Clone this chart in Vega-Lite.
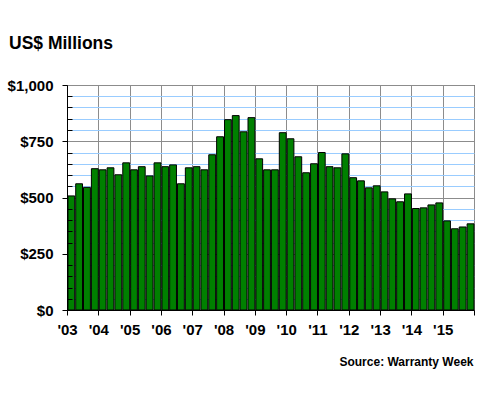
{
  "$schema": "https://vega.github.io/schema/vega-lite/v6.json",
  "autosize": "none",
  "width": 407,
  "height": 225,
  "padding": {"left": 67, "top": 85, "right": 6, "bottom": 90},
  "background": "white",
  "config": {
    "view": {"stroke": "black", "strokeWidth": 1},
    "axis": {"labelFont": "Liberation Sans", "labelFontWeight": "bold", "labelFontSize": 15, "labelColor": "black", "domainColor": "black", "tickColor": "black"}
  },
  "title": {"text": "US$ Millions", "anchor": "start", "frame": "group", "dx": -58, "offset": 12, "baseline": "alphabetic", "font": "Liberation Sans", "fontWeight": "bold", "fontSize": 17.5, "color": "black"},
  "data": {"values": [
    {"quarter": "2003-01-01", "value": 507}, {"quarter": "2003-04-01", "value": 561}, {"quarter": "2003-07-01", "value": 545}, {"quarter": "2003-10-01", "value": 628},
    {"quarter": "2004-01-01", "value": 623}, {"quarter": "2004-04-01", "value": 632}, {"quarter": "2004-07-01", "value": 601}, {"quarter": "2004-10-01", "value": 654},
    {"quarter": "2005-01-01", "value": 623}, {"quarter": "2005-04-01", "value": 637}, {"quarter": "2005-07-01", "value": 596}, {"quarter": "2005-10-01", "value": 654},
    {"quarter": "2006-01-01", "value": 637}, {"quarter": "2006-04-01", "value": 645}, {"quarter": "2006-07-01", "value": 561}, {"quarter": "2006-10-01", "value": 632},
    {"quarter": "2007-01-01", "value": 637}, {"quarter": "2007-04-01", "value": 623}, {"quarter": "2007-07-01", "value": 690}, {"quarter": "2007-10-01", "value": 770},
    {"quarter": "2008-01-01", "value": 846}, {"quarter": "2008-04-01", "value": 864}, {"quarter": "2008-07-01", "value": 792}, {"quarter": "2008-10-01", "value": 855},
    {"quarter": "2009-01-01", "value": 672}, {"quarter": "2009-04-01", "value": 623}, {"quarter": "2009-07-01", "value": 623}, {"quarter": "2009-10-01", "value": 788},
    {"quarter": "2010-01-01", "value": 761}, {"quarter": "2010-04-01", "value": 681}, {"quarter": "2010-07-01", "value": 610}, {"quarter": "2010-10-01", "value": 650},
    {"quarter": "2011-01-01", "value": 700}, {"quarter": "2011-04-01", "value": 637}, {"quarter": "2011-07-01", "value": 632}, {"quarter": "2011-10-01", "value": 694},
    {"quarter": "2012-01-01", "value": 588}, {"quarter": "2012-04-01", "value": 574}, {"quarter": "2012-07-01", "value": 543}, {"quarter": "2012-10-01", "value": 552},
    {"quarter": "2013-01-01", "value": 525}, {"quarter": "2013-04-01", "value": 494}, {"quarter": "2013-07-01", "value": 481}, {"quarter": "2013-10-01", "value": 516},
    {"quarter": "2014-01-01", "value": 451}, {"quarter": "2014-04-01", "value": 454}, {"quarter": "2014-07-01", "value": 467}, {"quarter": "2014-10-01", "value": 476},
    {"quarter": "2015-01-01", "value": 396}, {"quarter": "2015-04-01", "value": 361}, {"quarter": "2015-07-01", "value": 369}, {"quarter": "2015-10-01", "value": 383}
  ]},
  "layer": [
    {
      "mark": {"type": "bar", "fill": "#008000", "stroke": "black", "strokeWidth": 1},
      "encoding": {
        "x": {
          "field": "quarter", "type": "temporal", "timeUnit": "utcyearquarter",
          "scale": {"domain": [{"year": 2003, "month": 1, "date": 1, "utc": true}, {"year": 2016, "month": 1, "date": 1, "utc": true}], "nice": false, "padding": 0},
          "axis": {
            "orient": "bottom",
            "values": [
              {"year": 2003, "month": 1, "date": 1, "utc": true}, {"year": 2004, "month": 1, "date": 1, "utc": true}, {"year": 2005, "month": 1, "date": 1, "utc": true},
              {"year": 2006, "month": 1, "date": 1, "utc": true}, {"year": 2007, "month": 1, "date": 1, "utc": true}, {"year": 2008, "month": 1, "date": 1, "utc": true},
              {"year": 2009, "month": 1, "date": 1, "utc": true}, {"year": 2010, "month": 1, "date": 1, "utc": true}, {"year": 2011, "month": 1, "date": 1, "utc": true},
              {"year": 2012, "month": 1, "date": 1, "utc": true}, {"year": 2013, "month": 1, "date": 1, "utc": true}, {"year": 2014, "month": 1, "date": 1, "utc": true},
              {"year": 2015, "month": 1, "date": 1, "utc": true}, {"year": 2016, "month": 1, "date": 1, "utc": true}
            ],
            "labelExpr": "utcyear(datum.value) === 2016 ? '' : \"'\" + utcFormat(datum.value, '%y')",
            "labelAlign": "center", "labelDx": 4, "labelPadding": 7, "labelFlush": false, "labelOverlap": false,
            "tickSize": 5, "grid": true, "gridColor": "#8c8c8c", "gridOpacity": 1, "gridWidth": 1,
            "domainColor": "black",
            "title": "Source: Warranty Week", "titleX": 406, "titleY": 55, "titleAlign": "right", "titleBaseline": "alphabetic", "titleAngle": 0,
            "titleFont": "Liberation Sans", "titleFontWeight": "bold", "titleFontSize": 12, "titleColor": "black",
            "zindex": 0
          }
        },
        "y": {
          "field": "value", "type": "quantitative",
          "scale": {"domain": [0, 1000], "nice": false},
          "axis": {
            "values": [0, 50, 100, 150, 200, 250, 300, 350, 400, 450, 500, 550, 600, 650, 700, 750, 800, 850, 900, 950, 1000],
            "grid": true, "gridOpacity": 1, "gridWidth": 1,
            "gridColor": {"condition": {"test": "datum.value % 250 === 0", "value": "#8c8c8c"}, "value": "#99ccff"},
            "labels": false, "ticks": false, "domain": false, "title": null, "zindex": 0
          }
        }
      }
    },
    {
      "mark": {"type": "bar", "opacity": 0},
      "encoding": {
        "x": {"field": "quarter", "type": "temporal", "timeUnit": "utcyearquarter", "axis": null},
        "y": {
          "field": "value", "type": "quantitative",
          "axis": {
            "orient": "left",
            "values": [0, 50, 100, 150, 200, 250, 300, 350, 400, 450, 500, 550, 600, 650, 700, 750, 800, 850, 900, 950, 1000],
            "labelExpr": "datum.value % 250 === 0 ? '$' + format(datum.value, ',') : ''",
            "labelPadding": 9, "labelFlush": false, "labelOverlap": false,
            "tickSize": {"condition": {"test": "datum.value % 250 !== 0", "value": -5}, "value": 5},
            "tickColor": "black", "domainColor": "black", "grid": false, "title": null, "zindex": 1
          }
        }
      }
    }
  ],
  "resolve": {"axis": {"x": "independent", "y": "independent"}}
}
